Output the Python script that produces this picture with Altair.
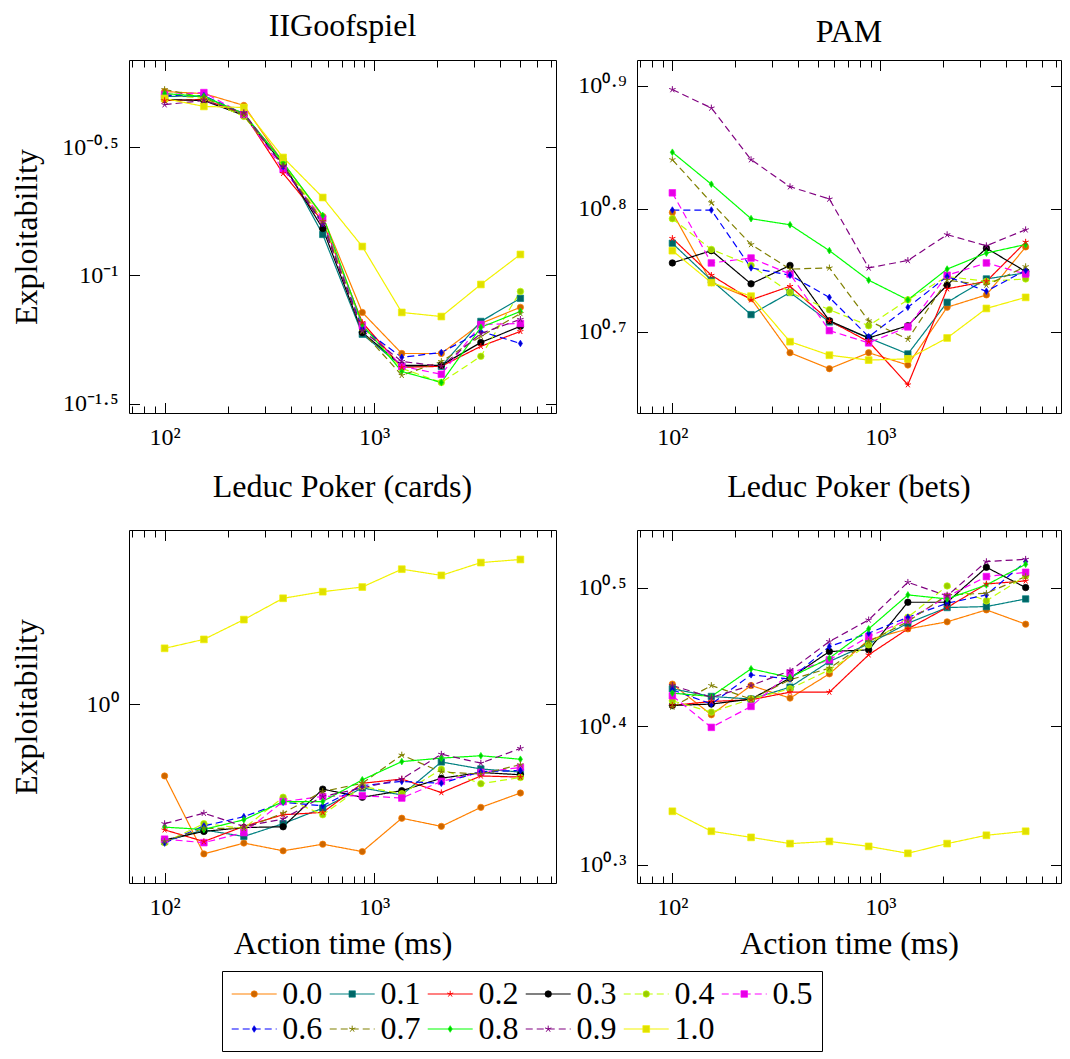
import altair as alt
import pandas as pd

# ---------------- data (log10 of exploitability) ----------------
series_labels = ["0.0", "0.1", "0.2", "0.3", "0.4", "0.5", "0.6", "0.7", "0.8", "0.9", "1.0"]
action_times = [100, 154, 239, 368, 569, 879, 1357, 2096, 3237, 5000]

goof_00 = [-0.283, -0.291, -0.337, -0.560, -0.770, -1.144, -1.304, -1.304, -1.187, -1.124]
goof_01 = [-0.302, -0.302, -0.372, -0.556, -0.840, -1.229, -1.354, -1.354, -1.179, -1.089]
goof_02 = [-0.318, -0.314, -0.369, -0.602, -0.789, -1.183, -1.358, -1.354, -1.276, -1.218]
goof_03 = [-0.314, -0.318, -0.376, -0.567, -0.817, -1.222, -1.350, -1.350, -1.261, -1.198]
goof_04 = [-0.295, -0.310, -0.380, -0.560, -0.786, -1.198, -1.362, -1.417, -1.315, -1.062]
goof_05 = [-0.295, -0.287, -0.372, -0.587, -0.778, -1.195, -1.354, -1.385, -1.191, -1.187]
goof_06 = [-0.299, -0.299, -0.369, -0.575, -0.797, -1.206, -1.319, -1.300, -1.218, -1.265]
goof_07 = [-0.275, -0.306, -0.376, -0.571, -0.789, -1.218, -1.389, -1.335, -1.237, -1.148]
goof_08 = [-0.291, -0.302, -0.369, -0.560, -0.766, -1.191, -1.374, -1.417, -1.202, -1.140]
goof_09 = [-0.334, -0.318, -0.365, -0.575, -0.801, -1.214, -1.335, -1.354, -1.226, -1.171]
goof_10 = [-0.310, -0.341, -0.345, -0.540, -0.696, -0.887, -1.144, -1.160, -1.035, -0.918]

pam_00 = [0.797, 0.740, 0.727, 0.683, 0.670, 0.683, 0.673, 0.720, 0.730, 0.769]
pam_01 = [0.772, 0.742, 0.714, 0.732, 0.708, 0.695, 0.682, 0.724, 0.743, 0.748]
pam_02 = [0.776, 0.746, 0.726, 0.737, 0.709, 0.692, 0.657, 0.735, 0.741, 0.773]
pam_03 = [0.756, 0.766, 0.739, 0.754, 0.709, 0.695, 0.705, 0.738, 0.768, 0.749]
pam_04 = [0.792, 0.767, 0.754, 0.732, 0.718, 0.705, 0.726, 0.745, 0.741, 0.743]
pam_05 = [0.813, 0.756, 0.760, 0.747, 0.701, 0.691, 0.704, 0.746, 0.756, 0.747]
pam_06 = [0.799, 0.799, 0.752, 0.746, 0.728, 0.696, 0.720, 0.745, 0.733, 0.750]
pam_07 = [0.840, 0.805, 0.771, 0.751, 0.752, 0.709, 0.694, 0.742, 0.738, 0.753]
pam_08 = [0.846, 0.820, 0.792, 0.787, 0.766, 0.742, 0.726, 0.751, 0.764, 0.771]
pam_09 = [0.897, 0.882, 0.840, 0.818, 0.808, 0.752, 0.758, 0.779, 0.770, 0.783]
pam_10 = [0.766, 0.740, 0.729, 0.692, 0.681, 0.677, 0.678, 0.695, 0.719, 0.728]

cards_00 = [-0.185, -0.386, -0.358, -0.378, -0.361, -0.380, -0.294, -0.315, -0.266, -0.229]
cards_01 = [-0.354, -0.324, -0.341, -0.308, -0.268, -0.216, -0.234, -0.149, -0.167, -0.175]
cards_02 = [-0.324, -0.354, -0.315, -0.285, -0.279, -0.204, -0.193, -0.228, -0.185, -0.188]
cards_03 = [-0.350, -0.328, -0.318, -0.316, -0.219, -0.240, -0.223, -0.191, -0.176, -0.182]
cards_04 = [-0.357, -0.308, -0.320, -0.240, -0.285, -0.212, -0.231, -0.168, -0.205, -0.189]
cards_05 = [-0.348, -0.357, -0.331, -0.251, -0.238, -0.236, -0.242, -0.199, -0.176, -0.163]
cards_06 = [-0.358, -0.314, -0.290, -0.253, -0.262, -0.210, -0.199, -0.204, -0.174, -0.171]
cards_07 = [-0.354, -0.320, -0.320, -0.281, -0.225, -0.204, -0.131, -0.175, -0.180, -0.156]
cards_08 = [-0.317, -0.323, -0.298, -0.251, -0.251, -0.195, -0.148, -0.139, -0.133, -0.142]
cards_09 = [-0.308, -0.281, -0.315, -0.296, -0.238, -0.216, -0.193, -0.129, -0.152, -0.114]
cards_10 = [0.144, 0.167, 0.218, 0.273, 0.290, 0.302, 0.348, 0.332, 0.365, 0.373]

bets_00 = [0.4304, 0.4083, 0.4294, 0.4203, 0.4378, 0.4623, 0.4702, 0.4753, 0.4839, 0.4736]
bets_01 = [0.4270, 0.4215, 0.4196, 0.4282, 0.4467, 0.4594, 0.4743, 0.4856, 0.4863, 0.4918]
bets_02 = [0.4150, 0.4179, 0.4191, 0.4246, 0.4246, 0.4515, 0.4702, 0.4856, 0.5026, 0.5048]
bets_03 = [0.4150, 0.4160, 0.4196, 0.4347, 0.4539, 0.4551, 0.4894, 0.4894, 0.5146, 0.5000]
bets_04 = [0.4184, 0.4102, 0.4196, 0.4270, 0.4407, 0.4587, 0.4786, 0.5012, 0.4904, 0.5084]
bets_05 = [0.4220, 0.3992, 0.4143, 0.4383, 0.4479, 0.4647, 0.4767, 0.4935, 0.5079, 0.5110]
bets_06 = [0.4263, 0.4160, 0.4371, 0.4340, 0.4575, 0.4671, 0.4786, 0.4887, 0.4947, 0.5187]
bets_07 = [0.4138, 0.4294, 0.4196, 0.4335, 0.4419, 0.4611, 0.4755, 0.4947, 0.4959, 0.5079]
bets_08 = [0.4239, 0.4215, 0.4414, 0.4352, 0.4491, 0.4702, 0.4947, 0.4918, 0.5019, 0.5168]
bets_09 = [0.4294, 0.4208, 0.4294, 0.4400, 0.4611, 0.4767, 0.5038, 0.4940, 0.5187, 0.5204]
bets_10 = [0.3387, 0.3243, 0.3199, 0.3154, 0.3170, 0.3134, 0.3084, 0.3154, 0.3214, 0.3243]

goof_ticks = [-1.5, -1.0, -0.5]
pam_ticks = [0.7, 0.8, 0.9]
cards_ticks = [0.0]
bets_ticks = [0.3, 0.4, 0.5]
x_major_ticks = [100, 1000]
x_minor_ticks = [70, 80, 90, 200, 300, 400, 500, 600, 700, 800, 900,
                 2000, 3000, 4000, 5000, 6000, 7000]

# ---------------- styles ----------------
FONT = "Liberation Serif"
line_colors = ["#FF8000", "#008080", "#FF0000", "#000000", "#BFFF00", "#FF00FF",
               "#0000FF", "#808000", "#00FF00", "#800080", "#F2F200"]
fill_colors = ["#CC6600", "#006666", "#FF0000", "#000000", "#99CC00", "#E600E6",
               "#0000CC", "#808000", "#00CC00", "#800080", "#E0E000"]
STAR = "M0,-1L0,0M0.951,-0.309L0,0M0.588,0.809L0,0M-0.588,0.809L0,0M-0.951,-0.309L0,0"
DIAMOND = "M0,-1L0.62,0L0,1L-0.62,0Z"
shapes = ["circle", "square", STAR, "circle", "circle", "square",
          DIAMOND, STAR, DIAMOND, STAR, "square"]
sizes = [40, 46, 60, 40, 40, 46, 64, 60, 64, 60, 46]
SOLID = [1, 0]
DASH = [7, 4]
dashes = [SOLID, SOLID, SOLID, SOLID, DASH, DASH, DASH, DASH, SOLID, DASH, SOLID]
star_series = [s for s, sh in zip(series_labels, shapes) if sh == STAR]
filled_series = [s for s in series_labels if s not in star_series]

color_scale = alt.Scale(domain=series_labels, range=line_colors)
fill_scale = alt.Scale(domain=series_labels, range=fill_colors)
shape_scale = alt.Scale(domain=series_labels, range=shapes)
size_scale = alt.Scale(domain=series_labels, range=sizes)
dash_scale = alt.Scale(domain=series_labels, range=dashes)

MAJOR = 10.5
MINOR = 7
X_DOMAIN = [67.6, 7395]

SUP = {"0": "⁰", "1": "¹", "2": "²", "3": "³", "4": "⁴", "5": "⁵",
       "6": "⁶", "7": "⁷", "8": "⁸", "9": "⁹", "-": "⁻", ".": "·"}


def pow_label(e):
    s = ("%g" % e)
    return "10" + "".join(SUP[c] for c in s)


def label_expr(ticks):
    expr = "''"
    for t in ticks:
        expr = "abs(datum.value - (%g)) < 0.001 ? '%s' : %s" % (t, pow_label(t), expr)
    return expr


def frame(arrays):
    rows = []
    for lab, vals in zip(series_labels, arrays):
        for t, v in zip(action_times, vals):
            rows.append({"series": lab, "time": t, "logv": v})
    return pd.DataFrame(rows)


def panel(arrays, title, title_offset, ydomain, yticks, width, height,
          y_title, x_title):
    df = frame(arrays)
    xs = alt.Scale(type="log", domain=X_DOMAIN, nice=False, zero=False)
    ys = alt.Scale(domain=ydomain, nice=False, zero=False)

    x_major = alt.Axis(orient="bottom", values=x_major_ticks,
                       labelExpr="datum.value < 500 ? '10²' : '10³'",
                       tickSize=MAJOR, offset=-MAJOR, domain=False, grid=False,
                       labelPadding=12, labelFont=FONT, labelFontSize=24,
                       labelColor="black", tickColor="black", labelFlush=False,
                       title=x_title if x_title else None,
                       titleFont=FONT, titleFontSize=32, titleFontWeight="normal",
                       titleColor="black", titlePadding=0,
                       minExtent=56, maxExtent=56)
    y_major = alt.Axis(orient="left", values=yticks, labelExpr=label_expr(yticks),
                       tickSize=MAJOR, offset=-MAJOR, domain=False, grid=False,
                       labelPadding=11, labelFont=FONT, labelFontSize=24,
                       labelColor="black", tickColor="black", labelFlush=False,
                       title=y_title if y_title else None,
                       titleFont=FONT, titleFontSize=32, titleFontWeight="normal",
                       titleColor="black", titlePadding=16,
                       minExtent=80, maxExtent=80)

    def tick_axis(orient, values, size):
        return alt.Axis(orient=orient, values=values, tickSize=size, offset=-size,
                        labels=False, domain=False, grid=False, title=None,
                        tickColor="black", minExtent=0, maxExtent=0)

    lines = alt.Chart().mark_line(strokeWidth=1.2).encode(
        x=alt.X("time:Q", scale=xs, axis=x_major),
        y=alt.Y("logv:Q", scale=ys, axis=y_major),
        color=alt.Color("series:N", scale=color_scale, legend=None),
        strokeDash=alt.StrokeDash("series:N", scale=dash_scale, legend=None),
        order=alt.Order("time:Q"),
    )
    pts_filled = alt.Chart().mark_point(filled=True, strokeWidth=0.7, opacity=1).encode(
        x=alt.X("time:Q", scale=xs, axis=tick_axis("bottom", x_minor_ticks, MINOR)),
        y=alt.Y("logv:Q", scale=ys, axis=tick_axis("right", yticks, MAJOR)),
        fill=alt.Fill("series:N", scale=fill_scale, legend=None),
        stroke=alt.Stroke("series:N", scale=color_scale, legend=None),
        shape=alt.Shape("series:N", scale=shape_scale, legend=None),
        size=alt.Size("series:N", scale=size_scale, legend=None),
    ).transform_filter(alt.FieldOneOfPredicate(field="series", oneOf=filled_series))
    pts_star = alt.Chart().mark_point(filled=False, strokeWidth=1.0, opacity=1).encode(
        x=alt.X("time:Q", scale=xs, axis=tick_axis("top", x_major_ticks, MAJOR)),
        y=alt.Y("logv:Q", scale=ys, axis=None),
        stroke=alt.Stroke("series:N", scale=color_scale, legend=None),
        shape=alt.Shape("series:N", scale=shape_scale, legend=None),
        size=alt.Size("series:N", scale=size_scale, legend=None),
    ).transform_filter(alt.FieldOneOfPredicate(field="series", oneOf=star_series))
    top_minor = alt.Chart().mark_point(opacity=0).encode(
        x=alt.X("time:Q", scale=xs, axis=tick_axis("top", x_minor_ticks, MINOR)),
        y=alt.Y("logv:Q", scale=ys, axis=None),
    )
    return alt.layer(lines, pts_filled, pts_star, top_minor, data=df).resolve_axis(
        x="independent", y="independent"
    ).properties(
        width=width, height=height,
        title=alt.TitleParams(text=title, font=FONT, fontSize=32, fontWeight="normal",
                              color="black", offset=title_offset, baseline="alphabetic",
                              anchor="middle"),
    )


goof = [goof_00, goof_01, goof_02, goof_03, goof_04, goof_05, goof_06, goof_07, goof_08, goof_09, goof_10]
pam = [pam_00, pam_01, pam_02, pam_03, pam_04, pam_05, pam_06, pam_07, pam_08, pam_09, pam_10]
cards = [cards_00, cards_01, cards_02, cards_03, cards_04, cards_05, cards_06, cards_07, cards_08, cards_09, cards_10]
bets = [bets_00, bets_01, bets_02, bets_03, bets_04, bets_05, bets_06, bets_07, bets_08, bets_09, bets_10]

p1 = panel(goof, "IIGoofspiel", -8, [-1.536, -0.160], goof_ticks, 427, 353, "Exploitability", None)
p2 = panel(pam, "PAM", -14, [0.634, 0.921], pam_ticks, 424, 353, None, None)
p3 = panel(cards, "Leduc Poker (cards)", 1, [-0.461, 0.449], cards_ticks, 427, 353,
           "Exploitability", "Action time (ms)")
p4 = panel(bets, "Leduc Poker (bets)", 1, [0.287, 0.5415], bets_ticks, 424, 353,
           None, "Action time (ms)")

# ---------------- legend (drawn as its own small chart) ----------------
# one legend entry = 1 unit along x; line 0..0.459, marker at its middle, text from 0.517
legend_df = pd.DataFrame({"series": series_labels, "idx": list(range(len(series_labels)))})
lx = alt.Scale(domain=[-0.099, 6.023], nice=False, zero=False)
ly = alt.Scale(domain=[-0.657, 1.629], nice=False, zero=False, reverse=True)
lbase = alt.Chart(legend_df).transform_calculate(
    col="datum.idx % 6", row="floor(datum.idx / 6)"
)
leg_line = lbase.transform_calculate(x0="datum.col", x1="datum.col + 0.459").mark_rule(
    strokeWidth=1.2).encode(
    x=alt.X("x0:Q", scale=lx, axis=None), x2="x1:Q",
    y=alt.Y("row:Q", scale=ly, axis=None),
    color=alt.Color("series:N", scale=color_scale, legend=None),
    strokeDash=alt.StrokeDash("series:N", scale=dash_scale, legend=None),
)
leg_pf = lbase.transform_calculate(xm="datum.col + 0.2295").transform_filter(
    alt.FieldOneOfPredicate(field="series", oneOf=filled_series)).mark_point(
    filled=True, strokeWidth=0.7, opacity=1).encode(
    x=alt.X("xm:Q", scale=lx, axis=None), y=alt.Y("row:Q", scale=ly, axis=None),
    fill=alt.Fill("series:N", scale=fill_scale, legend=None),
    stroke=alt.Stroke("series:N", scale=color_scale, legend=None),
    shape=alt.Shape("series:N", scale=shape_scale, legend=None),
    size=alt.Size("series:N", scale=size_scale, legend=None),
)
leg_ps = lbase.transform_calculate(xm="datum.col + 0.2295").transform_filter(
    alt.FieldOneOfPredicate(field="series", oneOf=star_series)).mark_point(
    filled=False, strokeWidth=1.0, opacity=1).encode(
    x=alt.X("xm:Q", scale=lx, axis=None), y=alt.Y("row:Q", scale=ly, axis=None),
    stroke=alt.Stroke("series:N", scale=color_scale, legend=None),
    shape=alt.Shape("series:N", scale=shape_scale, legend=None),
    size=alt.Size("series:N", scale=size_scale, legend=None),
)
leg_text = lbase.transform_calculate(xt="datum.col + 0.517").mark_text(
    align="left", baseline="middle", font=FONT, fontSize=32, color="black").encode(
    x=alt.X("xt:Q", scale=lx, axis=None), y=alt.Y("row:Q", scale=ly, axis=None),
    text="series:N",
)
legend = alt.layer(leg_line, leg_pf, leg_ps, leg_text).properties(width=600, height=80)

# invisible spacer that pushes the legend box to its place under the panels
spacer = alt.Chart(legend_df).mark_point(opacity=0).encode(
    x=alt.X("idx:Q", axis=None), y=alt.Y("idx:Q", axis=None)
).properties(width=88, height=80, view=alt.ViewBackground(stroke="transparent"))

row1 = alt.hconcat(p1, p2, spacing=10)
row2 = alt.hconcat(p3, p4, spacing=10)
grid = alt.vconcat(row1, row2, spacing=11)
legend_row = alt.hconcat(spacer, legend, spacing=0)
chart = alt.vconcat(grid, legend_row, spacing=7).properties(
    padding={"left": 2, "top": 1, "right": 0, "bottom": 0}
).configure_view(stroke="black", strokeWidth=1)

chart.save("out.html", embed_options={"renderer": "svg", "actions": False})
